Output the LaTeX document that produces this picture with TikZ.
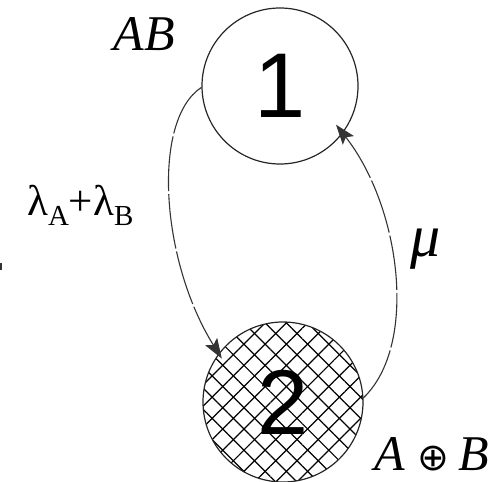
\documentclass[tikz,border=0pt]{standalone}
\usepackage{fontspec}
\setmainfont{Liberation Serif}
\newfontfamily\digitfont{Liberation Sans}
\newfontfamily\dvfont{DejaVu Sans}
\usetikzlibrary{arrows.meta,patterns.meta}
\tikzset{
  state/.style={circle, draw=black!85, line width=1.2pt, minimum size=156pt, inner sep=0pt,
    font=\digitfont\fontsize{92}{92}\selectfont},
  hatched/.style={preaction={pattern={Lines[angle=45,distance=15pt,line width=1.2pt]}},
    pattern={Lines[angle=-45,distance=15pt,line width=1.2pt]}},
  trans/.style={draw=black!80, line width=1.1pt, dash pattern=on 55pt off 3pt,
    -{Stealth[length=20pt,width=14pt,inset=4pt]}},
  lbl/.style={inner sep=0pt, font=\fontsize{50}{50}\selectfont\itshape}
}
\begin{document}
\begin{tikzpicture}[x=1pt,y=-1pt]
\useasboundingbox (0,0) rectangle (504,482);
\node[state] (n1) at (280,86) {1};
\node[state, hatched, minimum size=160pt] (n2) at (283,402) {2};
\draw[trans, shorten >=-6pt] (n1.181) .. controls +(-50,33) and +(-58,-93) .. (n2.143);
\draw[trans, shorten >=-11pt] (n2.3) .. controls +(55,-53) and +(58,74) .. (n1.-37);
\node[lbl, anchor=base] (ab) at (144,50) {AB};
\node[lbl, anchor=base] (aob) at (432,470) {A\hspace{12pt}{\upshape\dvfont\fontsize{38}{38}\selectfont ⊕}\hspace{10pt}B};
\node[inner sep=0pt, anchor=base, font=\fontsize{60}{60}\selectfont\itshape] (mu) at (426,256) {μ};
\node[inner sep=0pt, anchor=base west, font=\fontsize{43}{43}\selectfont] (lam) at (27,215)
  {λ\raisebox{-10pt}{\fontsize{29}{29}\selectfont A}+λ\raisebox{-10pt}{\fontsize{29}{29}\selectfont B}};
\fill[black!80] (0,263) rectangle (1.6,270);
\end{tikzpicture}
\end{document}
